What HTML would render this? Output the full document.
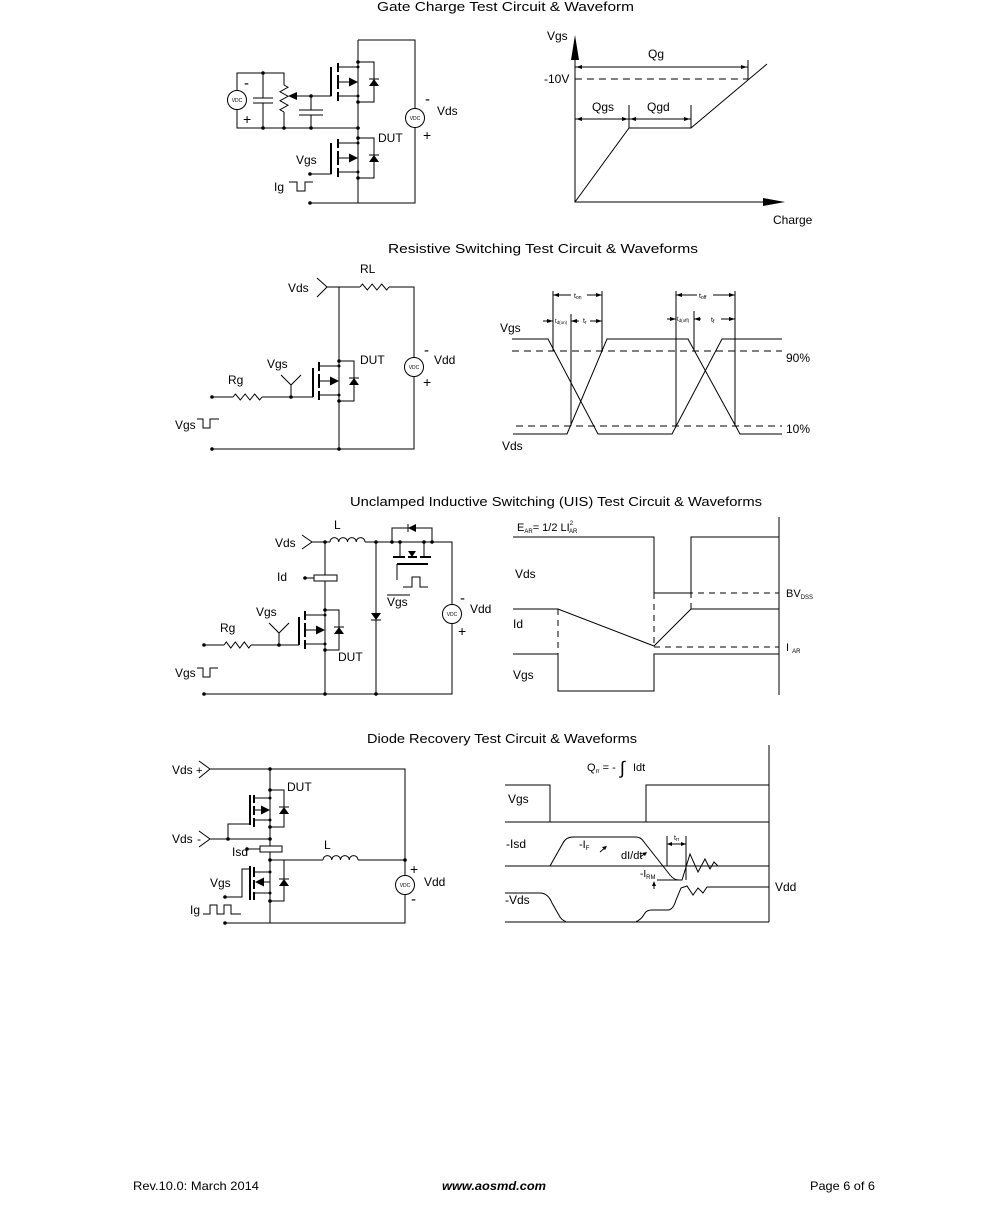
<!DOCTYPE html>
<html><head><meta charset="utf-8"><style>
html,body{margin:0;padding:0;background:#fff;}
svg{display:block;}
text{font-family:"Liberation Sans",Arial,sans-serif;fill:#000;}
</style></head><body>
<svg width="991" height="1217" viewBox="0 0 991 1217" xmlns="http://www.w3.org/2000/svg">
<rect width="991" height="1217" fill="#fff"/>

<!-- ===== TITLES ===== -->
<text x="377" y="11" font-size="13" textLength="257" lengthAdjust="spacingAndGlyphs">Gate Charge Test Circuit &amp; Waveform</text>
<text x="388" y="253" font-size="13" textLength="310" lengthAdjust="spacingAndGlyphs">Resistive Switching Test Circuit &amp; Waveforms</text>
<text x="350" y="506" font-size="13" textLength="412" lengthAdjust="spacingAndGlyphs">Unclamped Inductive Switching (UIS) Test Circuit &amp; Waveforms</text>
<text x="367" y="743" font-size="13" textLength="270" lengthAdjust="spacingAndGlyphs">Diode Recovery Test Circuit &amp; Waveforms</text>

<!-- ===== GATE CHARGE CIRCUIT ===== -->
<g stroke="#000" stroke-width="1" fill="none">
  <path d="M358,40 H415 V108.5 M415,127.5 V203 H310"/>
  <path d="M358,40 V62 M358,102 V138 M358,178 V203"/>
  <!-- left network -->
  <path d="M237,90.5 V73 H284 V85 M237,109.5 V128 H358"/>
  <path d="M263,73 V98 M253,98 H273 M253,103 H273 M263,103 V128"/>
  <polyline points="284,85 288,87.25 280,91.75 288,96.25 280,100.75 288,105.25 280,109.75 284,112"/>
  <path d="M284,112 V128"/>
  <path d="M294,96 H331 V67"/>
  <path d="M311,96 V110 M299,110 H323 M299,115 H323 M311,115 V128"/>
  <!-- lower gate -->
  <path d="M310,174 H331 V145"/>
</g>
<polygon points="288,96 297,92 297,100" fill="#000"/>
<g fill="#000">
  <circle cx="263" cy="73" r="1.8"/><circle cx="263" cy="128" r="1.8"/><circle cx="284" cy="128" r="1.8"/>
  <circle cx="311" cy="128" r="1.8"/><circle cx="358" cy="128" r="1.8"/><circle cx="311" cy="96" r="1.8"/>
  <circle cx="310" cy="174" r="1.8"/><circle cx="310" cy="203" r="1.8"/>
</g>
<!-- MOSFET upper -->
<g transform="translate(358,62)" stroke="#000" fill="none">
  <path d="M0,0 V40 M-20,5 H0 M-20,20 H-8 M-20,34 H0 M0,0 H16 V40 H0"/>
  <path d="M-20,1 V10 M-20,13 V27 M-20,30 V39" stroke-width="2"/>
  <path d="M-27,5 V34" stroke-width="2"/>
  <polygon points="0,20 -9,15.5 -9,24.5" fill="#000" stroke="none"/>
  <path d="M11,17 H21"/><polygon points="16,17 11,24 21,24" fill="#000" stroke="none"/>
  <g fill="#000" stroke="none"><circle cx="0" cy="0" r="1.8"/><circle cx="0" cy="5" r="1.5"/><circle cx="0" cy="34" r="1.5"/><circle cx="0" cy="40" r="1.8"/></g>
</g>
<!-- MOSFET lower -->
<g transform="translate(358,138)" stroke="#000" fill="none">
  <path d="M0,0 V40 M-20,5 H0 M-20,20 H-8 M-20,34 H0 M0,0 H16 V40 H0"/>
  <path d="M-20,1 V10 M-20,13 V27 M-20,30 V39" stroke-width="2"/>
  <path d="M-27,5 V36" stroke-width="2"/>
  <polygon points="0,20 -9,15.5 -9,24.5" fill="#000" stroke="none"/>
  <path d="M11,17 H21"/><polygon points="16,17 11,24 21,24" fill="#000" stroke="none"/>
  <g fill="#000" stroke="none"><circle cx="0" cy="0" r="1.8"/><circle cx="0" cy="5" r="1.5"/><circle cx="0" cy="34" r="1.5"/><circle cx="0" cy="40" r="1.8"/></g>
</g>
<!-- VDC sources -->
<circle cx="237" cy="100" r="9.5" fill="#fff" stroke="#000"/>
<text x="237" y="102" font-size="5" text-anchor="middle">VDC</text>
<circle cx="415" cy="118" r="9.5" fill="#fff" stroke="#000"/>
<text x="415" y="120" font-size="5" text-anchor="middle">VDC</text>
<text x="244" y="88" font-size="15">-</text>
<text x="243" y="124" font-size="14">+</text>
<text x="425" y="104" font-size="15">-</text>
<text x="437" y="115" font-size="12">Vds</text>
<text x="423" y="140" font-size="14">+</text>
<text x="378" y="142" font-size="12">DUT</text>
<text x="296" y="164" font-size="12">Vgs</text>
<text x="274" y="191" font-size="12">Ig</text>
<polyline points="289,182 297,182 297,191 305,191 305,182 313,182" fill="none" stroke="#000"/>

<!-- ===== GATE CHARGE WAVEFORM ===== -->
<g stroke="#000" fill="none">
  <path d="M575,55 V202 H765"/>
  <path d="M575,79 H748" stroke-dasharray="7,5"/>
  <path d="M575,67 H748 M748,60 V79"/>
  <path d="M575,119 H691 M629,105 V128 M691,105 V128"/>
  <polyline points="575,202 629,128 691,128 767,64"/>
</g>
<g fill="#000">
  <polygon points="575,35 571,60 579,60"/>
  <polygon points="785,202 763,198 763,206"/>
  <polygon points="576,67 582,65 582,69"/><polygon points="747,67 741,65 741,69"/>
  <polygon points="576,119 582,117 582,121"/><polygon points="628,119 622,117 622,121"/>
  <polygon points="630,119 636,117 636,121"/><polygon points="690,119 684,117 684,121"/>
</g>
<text x="547" y="40" font-size="12">Vgs</text>
<text x="648" y="58" font-size="12">Qg</text>
<text x="544" y="83" font-size="12">-10V</text>
<text x="592" y="111" font-size="12">Qgs</text>
<text x="647" y="111" font-size="12">Qgd</text>
<text x="773" y="224" font-size="12">Charge</text>

<!-- ===== RESISTIVE CIRCUIT ===== -->
<g stroke="#000" fill="none">
  <polyline points="317,278 327,287 317,297"/>
  <path d="M327,287 H360 M389,287 H414 V357.5 M414,376.5 V449 H212"/>
  <polyline points="360,287 362.4,284 367.3,290 372.1,284 376.9,290 381.7,284 386.6,290 389,287"/>
  <path d="M339,287 V361 M339,401 V449"/>
  <path d="M212,397 H233 M262,397 H313"/>
  <polyline points="233,397 235.4,394 240.3,400 245.1,394 249.9,400 254.7,394 259.6,400 262,397"/>
  <path d="M291,397 V385 M281,375 L291,385 L301,375"/>
  <polyline points="197,419 203,419 203,428 210,428 210,419 219,419"/>
</g>
<g transform="translate(339,361)" stroke="#000" fill="none">
  <path d="M0,0 V40 M-20,5 H0 M-20,20 H-8 M-20,34 H0 M0,0 H15 V40 H0"/>
  <path d="M-20,1 V10 M-20,13 V27 M-20,30 V39" stroke-width="2"/>
  <path d="M-26,7 V36" stroke-width="2"/>
  <polygon points="0,20 -9,15.5 -9,24.5" fill="#000" stroke="none"/>
  <path d="M10,17 H20"/><polygon points="15,17 10,24 20,24" fill="#000" stroke="none"/>
  <g fill="#000" stroke="none"><circle cx="0" cy="0" r="1.8"/><circle cx="0" cy="5" r="1.5"/><circle cx="0" cy="34" r="1.5"/><circle cx="0" cy="40" r="1.8"/></g>
</g>
<g fill="#000"><circle cx="212" cy="449" r="1.8"/><circle cx="339" cy="449" r="1.8"/><circle cx="212" cy="397" r="1.8"/><circle cx="291" cy="397" r="1.8"/></g>
<circle cx="414" cy="367" r="9.5" fill="#fff" stroke="#000"/>
<text x="414" y="369" font-size="5" text-anchor="middle">VDC</text>
<text x="288" y="292" font-size="12">Vds</text>
<text x="360" y="273" font-size="12">RL</text>
<text x="360" y="364" font-size="12">DUT</text>
<text x="424" y="355" font-size="15">-</text>
<text x="434" y="364" font-size="12">Vdd</text>
<text x="423" y="387" font-size="14">+</text>
<text x="267" y="368" font-size="12">Vgs</text>
<text x="228" y="384" font-size="12">Rg</text>
<text x="175" y="429" font-size="12">Vgs</text>

<!-- ===== RESISTIVE WAVEFORM ===== -->
<g stroke="#000" fill="none">
  <polyline points="512,339 548,339 598,434 672,434 722,339 782,339"/>
  <polyline points="513,434 567,434 607,339 688,339 740,434 782,434"/>
  <path d="M512,351 H782 M516,426 H782" stroke-dasharray="7,5"/>
  <path d="M553,291 V351 M571,314 V426 M602,291 V351 M676,291 V426 M694,311 V351 M735,291 V426"/>
  <path d="M553,295 H571 M587,295 H602 M676,295 H697 M713,295 H735"/>
  <path d="M543,321 H553 M571,321 H579 M590,321 H602"/>
  <path d="M667,319 H676 M694,319 H701 M721,319 H735"/>
</g>
<g fill="#000">
  <polygon points="553,295 559,293 559,297"/><polygon points="602,295 596,293 596,297"/>
  <polygon points="676,295 682,293 682,297"/><polygon points="735,295 729,293 729,297"/>
  <polygon points="553,321 547,319 547,323"/><polygon points="571,321 577,319 577,323"/><polygon points="602,321 596,319 596,323"/>
  <polygon points="676,319 670,317 670,321"/><polygon points="694,319 700,317 700,321"/><polygon points="735,319 729,317 729,321"/>
</g>
<text x="574" y="298" font-size="7">t<tspan font-size="5" dy="1">on</tspan></text>
<text x="699" y="298" font-size="7">t<tspan font-size="5" dy="1">off</tspan></text>
<text x="555" y="323" font-size="6">t<tspan font-size="4.5" dy="1">d(on)</tspan></text>
<text x="583" y="323" font-size="7">t<tspan font-size="5" dy="1">r</tspan></text>
<text x="677" y="321" font-size="6">t<tspan font-size="4.5" dy="1">d(off)</tspan></text>
<text x="711" y="322" font-size="7">t<tspan font-size="5" dy="1">f</tspan></text>
<text x="500" y="332" font-size="12">Vgs</text>
<text x="502" y="450" font-size="12">Vds</text>
<text x="786" y="362" font-size="12">90%</text>
<text x="786" y="433" font-size="12">10%</text>

<!-- ===== UIS CIRCUIT ===== -->
<g stroke="#000" fill="none">
  <polyline points="302,535 312,542 302,549"/>
  <path d="M312,542 H330 M365,542 H452 V604.5 M452,623.5 V694 H204"/>
  <path d="M330,542 a4.375,4.375 0 0 1 8.75,0 a4.375,4.375 0 0 1 8.75,0 a4.375,4.375 0 0 1 8.75,0 a4.375,4.375 0 0 1 8.75,0"/>
  <path d="M325,542 V610 M325,650 V694"/>
  <rect x="314" y="575" width="23" height="6" fill="#fff"/>
  <path d="M305,578 H314"/>
  <path d="M204,645 H224 M251,645 H299"/>
  <polyline points="224,645 226.3,642 230.8,648 235.3,642 239.8,648 244.3,642 248.8,648 251,645"/>
  <path d="M279,645 V633 M269,623 L279,633 L289,623"/>
  <path d="M376,542 V694"/>
  <path d="M371,620 H381"/>
  <path d="M392,542 V528 H432 V542 M400,542 V557 M424,542 V557"/>
  <path d="M408,524 V532"/>
  <path d="M393,557 H405 M408,557 H417 M420,557 H431" stroke-width="2"/>
  <path d="M397,564 H428" stroke-width="2"/>
  <path d="M397,564 V580"/>
  <polyline points="403,587 412,587 412,577 420,577 420,587 428,587"/>
  <path d="M387,595 H410"/>
  <polyline points="197,668 203,668 203,677 210,677 210,668 218,668"/>
</g>
<polygon points="408,528 416,524 416,532" fill="#000"/>
<polygon points="408,551 416,551 412,557" fill="#000"/>
<polygon points="371,613 381,613 376,620" fill="#000"/>
<g transform="translate(325,610)" stroke="#000" fill="none">
  <path d="M0,0 V40 M-20,5 H0 M-20,20 H-8 M-20,34 H0 M0,0 H14 V40 H0"/>
  <path d="M-20,1 V10 M-20,13 V27 M-20,30 V39" stroke-width="2"/>
  <path d="M-26,7 V35" stroke-width="2"/>
  <polygon points="0,20 -9,15.5 -9,24.5" fill="#000" stroke="none"/>
  <path d="M9,17 H19"/><polygon points="14,17 9,24 19,24" fill="#000" stroke="none"/>
  <g fill="#000" stroke="none"><circle cx="0" cy="0" r="1.8"/><circle cx="0" cy="5" r="1.5"/><circle cx="0" cy="34" r="1.5"/><circle cx="0" cy="40" r="1.8"/></g>
</g>
<g fill="#000">
  <circle cx="325" cy="542" r="1.8"/><circle cx="376" cy="542" r="1.8"/><circle cx="392" cy="542" r="1.8"/>
  <circle cx="400" cy="542" r="1.8"/><circle cx="424" cy="542" r="1.8"/><circle cx="432" cy="542" r="1.8"/>
  <circle cx="305" cy="578" r="1.8"/><circle cx="204" cy="645" r="1.8"/><circle cx="279" cy="645" r="1.8"/>
  <circle cx="204" cy="694" r="1.8"/><circle cx="325" cy="694" r="1.8"/><circle cx="376" cy="694" r="1.8"/>
</g>
<circle cx="452" cy="614" r="9.5" fill="#fff" stroke="#000"/>
<text x="452" y="616" font-size="5" text-anchor="middle">VDC</text>
<text x="275" y="547" font-size="12">Vds</text>
<text x="334" y="529" font-size="12">L</text>
<text x="277" y="581" font-size="12">Id</text>
<text x="387" y="606" font-size="12">Vgs</text>
<text x="460" y="603" font-size="15">-</text>
<text x="470" y="613" font-size="12">Vdd</text>
<text x="458" y="636" font-size="14">+</text>
<text x="256" y="616" font-size="12">Vgs</text>
<text x="220" y="632" font-size="12">Rg</text>
<text x="338" y="661" font-size="12">DUT</text>
<text x="175" y="677" font-size="12">Vgs</text>

<!-- ===== UIS WAVEFORM ===== -->
<g stroke="#000" fill="none">
  <path d="M779,517 V695"/>
  <polyline points="513,537 654,537 654,593 691,593 691,537 779,537"/>
  <polyline points="513,609 558,609 654,646 691,609 779,609"/>
  <polyline points="513,654 558,654 558,691 654,691 654,654 779,654"/>
  <path d="M654,593 H779 M654,647 H779 M558,609 V654 M654,593 V646 M691,537 V609" stroke-dasharray="6,5"/>
</g>
<text x="517" y="531" font-size="11">E<tspan font-size="6" dy="2">AR</tspan><tspan dy="-2">= 1/2 LI</tspan><tspan font-size="6" dy="-6">2</tspan><tspan font-size="6" dx="-4" dy="8">AR</tspan></text>
<text x="515" y="578" font-size="12">Vds</text>
<text x="513" y="628" font-size="12">Id</text>
<text x="513" y="679" font-size="12">Vgs</text>
<text x="786" y="597" font-size="11">BV<tspan font-size="6" dy="2">DSS</tspan></text>
<text x="786" y="651" font-size="11">I<tspan font-size="6" dx="3" dy="2">AR</tspan></text>

<!-- ===== DIODE RECOVERY CIRCUIT ===== -->
<g stroke="#000" fill="none">
  <polyline points="199,761 210,769 199,778"/>
  <path d="M210,769 H405 V875.5 M405,894.5 V923 H225"/>
  <path d="M270,769 V790"/>
  <!-- upper DUT -->
  <path d="M270,790 V872 M254,798 H270 M254,810 H262 M254,820 H270 M270,790 H284 V827 H270"/>
  <path d="M254,795 V803 M254,806 V815 M254,818 V827" stroke-width="2"/>
  <path d="M250,795 V825" stroke-width="2"/>
  <path d="M279,807 H289"/>
  <path d="M228,839 V824 H250"/>
  <polyline points="199,831 210,839 199,847"/>
  <path d="M210,839 H270"/>
  <rect x="260" y="846" width="22" height="6" fill="#fff"/>
  <path d="M247,849 H260"/>
  <path d="M270,860 H323 M358,860 H405"/>
  <path d="M323,860 a4.375,4.375 0 0 1 8.75,0 a4.375,4.375 0 0 1 8.75,0 a4.375,4.375 0 0 1 8.75,0 a4.375,4.375 0 0 1 8.75,0"/>
  <!-- lower -->
  <path d="M270,872 V923 M254,872 H270 M262,882 H270 M254,893 H270 M284,860 V901 H270"/>
  <path d="M254,867 V877 M254,880 V889 M254,892 V900" stroke-width="2"/>
  <path d="M250,866 V900" stroke-width="2"/>
  <path d="M279,879 H289"/>
  <path d="M225,897 H242 V869 H250"/>
  <polyline points="203,914 210,914 210,905 217,905 217,914 224,914 224,905 231,905 231,914 241,914"/>
</g>
<polygon points="270,810 261,805.5 261,814.5" fill="#000"/>
<polygon points="284,807 279,814 289,814" fill="#000"/>
<polygon points="255,882 264,877.5 264,886.5" fill="#000"/>
<polygon points="284,879 279,886 289,886" fill="#000"/>
<g fill="#000">
  <circle cx="270" cy="769" r="1.8"/><circle cx="270" cy="790" r="1.8"/><circle cx="270" cy="798" r="1.5"/><circle cx="270" cy="820" r="1.5"/><circle cx="270" cy="827" r="1.8"/>
  <circle cx="228" cy="839" r="1.8"/><circle cx="270" cy="839" r="1.8"/><circle cx="247" cy="849" r="1.8"/>
  <circle cx="270" cy="860" r="1.8"/><circle cx="405" cy="860" r="1.8"/>
  <circle cx="270" cy="872" r="1.5"/><circle cx="270" cy="893" r="1.5"/><circle cx="270" cy="901" r="1.8"/>
  <circle cx="225" cy="897" r="1.8"/><circle cx="225" cy="923" r="1.8"/>
</g>
<circle cx="405" cy="885" r="9.5" fill="#fff" stroke="#000"/>
<text x="405" y="887" font-size="5" text-anchor="middle">VDC</text>
<text x="172" y="774" font-size="12">Vds</text>
<text x="196" y="774" font-size="11">+</text>
<text x="172" y="843" font-size="12">Vds</text>
<text x="197" y="843" font-size="12">-</text>
<text x="287" y="791" font-size="12">DUT</text>
<text x="232" y="856" font-size="12">Isd</text>
<text x="324" y="849" font-size="12">L</text>
<text x="410" y="874" font-size="14">+</text>
<text x="424" y="886" font-size="12">Vdd</text>
<text x="411" y="904" font-size="15">-</text>
<text x="210" y="887" font-size="12">Vgs</text>
<text x="190" y="914" font-size="12">Ig</text>

<!-- ===== DIODE WAVEFORM ===== -->
<g stroke="#000" fill="none">
  <path d="M769,745 V922"/>
  <path d="M505,785 H550 V822 M646,822 V785 H769 M505,822 H769"/>
  <path d="M505,866 H769 M505,922 H769"/>
  <path d="M550,866 L563,843 Q566,837 573,837 H636 Q641,837 644,842 L670,875 Q674,880 679,880 L682,880 L690,854 L698,872 L705,859 L710,869 L714,862 L718,866"/>
  <path d="M657,880 H682"/>
  <path d="M654,889 V884"/>
  <path d="M667,836 V866 M686,836 V880 M667,844 H686"/>
  <path d="M505,893 H540 Q548,893 552,903 L560,917 Q563,922 570,922 H633 Q640,922 645,913 Q647,910 652,910 H668 Q673,910 676,900 L681,888 L687,886 L693,895 L698,888 L703,893 L707,887 H769"/>
  <path d="M566,922 H636" stroke="#777" stroke-width="2"/>
  <path d="M600,852 L606,847 M640,857 L646,853"/>
</g>
<g fill="#000">
  <polygon points="654,881 652,886 656,886"/>
  <polygon points="667,844 672,842 672,846"/><polygon points="686,844 681,842 681,846"/>
  <polygon points="607,846 602,847 605,850"/><polygon points="647,852 642,853 645,856"/>
</g>
<text x="587" y="771" font-size="11">Q<tspan font-size="6" dy="2">rr</tspan><tspan dy="-2"> = -</tspan></text>
<text x="620" y="774" font-size="18">∫</text>
<text x="633" y="771" font-size="11">Idt</text>
<text x="508" y="803" font-size="12">Vgs</text>
<text x="506" y="848" font-size="12">-Isd</text>
<text x="579" y="848" font-size="11">-I<tspan font-size="6" dy="2">F</tspan></text>
<text x="621" y="859" font-size="11">dI/dt</text>
<text x="674" y="840" font-size="7">t<tspan font-size="5" dy="1">rr</tspan></text>
<text x="640" y="877" font-size="10">-I<tspan font-size="6" dy="2">RM</tspan></text>
<text x="505" y="904" font-size="12">-Vds</text>
<text x="775" y="891" font-size="12">Vdd</text>

<!-- ===== FOOTER ===== -->
<text x="133" y="1190" font-size="12" textLength="126" lengthAdjust="spacingAndGlyphs">Rev.10.0: March 2014</text>
<text x="442" y="1190" font-size="12" font-weight="bold" font-style="italic" textLength="104" lengthAdjust="spacingAndGlyphs">www.aosmd.com</text>
<text x="810" y="1190" font-size="12" textLength="65" lengthAdjust="spacingAndGlyphs">Page 6 of 6</text>
</svg>
</body></html>
